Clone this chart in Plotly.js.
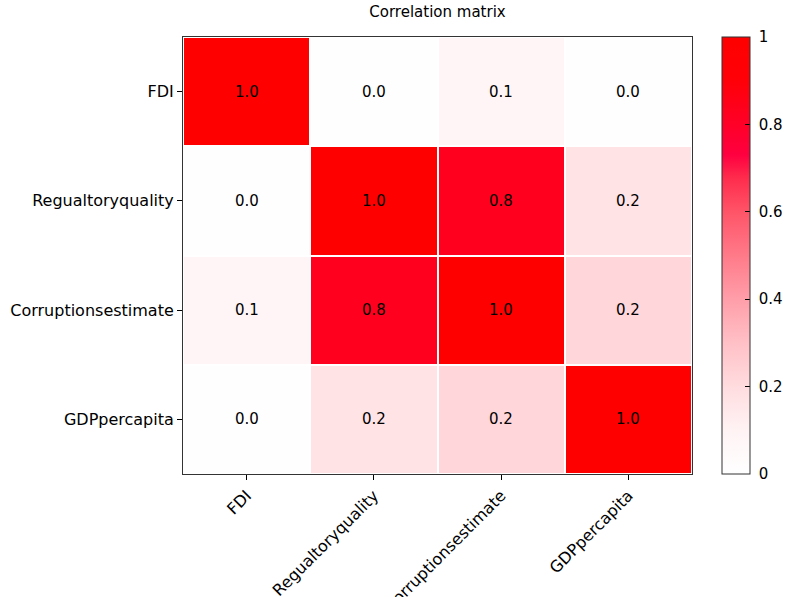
<!DOCTYPE html>
<html>
<head>
<meta charset="utf-8">
<script src="https://cdn.plot.ly/plotly-3.0.1.min.js"></script>
<style>body{margin:0;padding:0;background:#fff;}#chart{width:791px;height:597px;}</style>
</head>
<body>
<div id="chart"></div>
<script>
const variables = ["FDI", "Regualtoryquality", "Corruptionsestimate", "GDPpercapita"];
const rowFDI = [1.0, 0.01, 0.08, 0.01];
const rowRegulatory = [0.01, 1.0, 0.83, 0.17];
const rowCorruption = [0.08, 0.83, 1.0, 0.22];
const rowGDP = [0.01, 0.17, 0.22, 1.0];
const colorTicks = [0, 0.2, 0.4, 0.6, 0.8, 1];
const colorTickText = ["0", "0.2", "0.4", "0.6", "0.8", "1"];

const z = [rowFDI, rowRegulatory, rowCorruption, rowGDP];
const FONT = "DejaVu Sans, Liberation Sans, Arial, sans-serif";

const trace = {
  type: "heatmap",
  x: variables,
  y: variables,
  z: z,
  zmin: 0,
  zmax: 1,
  xgap: 2,
  ygap: 2,
  colorscale: [
    [0, "#ffffff"],
    [0.1, "#fff3f4"],
    [0.2, "#ffdcdf"],
    [0.3, "#ffc0c6"],
    [0.4, "#ff9ea9"],
    [0.5, "#ff7a89"],
    [0.6, "#ff5468"],
    [0.68, "#ff2a4c"],
    [0.73, "#ff0040"],
    [0.8, "#ff0028"],
    [0.9, "#ff0008"],
    [1, "#ff0000"]
  ],
  texttemplate: "%{z:.1f}",
  textfont: {family: FONT, size: 15, color: "#000"},
  colorbar: {
    x: 1.059, xanchor: "left", xpad: 0,
    y: 0.5, yanchor: "middle", ypad: 0,
    len: 1, lenmode: "fraction",
    thickness: 28,
    outlinewidth: 1, outlinecolor: "#333",
    tickvals: colorTicks,
    ticktext: colorTickText.map(t => "\u00a0" + t),
    ticks: "inside", ticklen: 5, tickcolor: "#000",
    tickfont: {family: FONT, size: 15, color: "#000"}
  }
};

const layout = {
  width: 791, height: 597,
  margin: {l: 183, r: 99, t: 37, b: 123, autoexpand: false},
  paper_bgcolor: "#fff", plot_bgcolor: "#fff",
  title: {
    text: "Correlation matrix",
    font: {family: FONT, size: 15, color: "#000"},
    x: 0.5, xref: "paper", xanchor: "center",
    y: 0.98, yref: "container", yanchor: "middle"
  },
  xaxis: {
    type: "category",
    showline: true, mirror: true, linecolor: "#333", linewidth: 1,
    ticks: "outside", ticklen: 5, tickcolor: "#000",
    tickangle: -45,
    tickfont: {family: FONT, size: 16, color: "#000"},
    showgrid: false, zeroline: false
  },
  yaxis: {
    type: "category",
    autorange: "reversed",
    showline: true, mirror: true, linecolor: "#333", linewidth: 1,
    ticks: "outside", ticklen: 5, tickcolor: "#000",
    tickfont: {family: FONT, size: 16, color: "#000"},
    showgrid: false, zeroline: false
  }
};

Plotly.newPlot("chart", [trace], layout, {displayModeBar: false, staticPlot: true});
</script>
</body>
</html>
